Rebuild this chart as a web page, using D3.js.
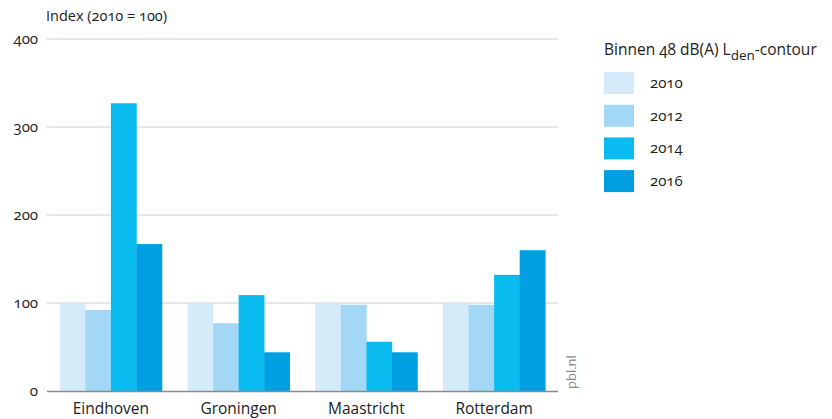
<!DOCTYPE html>
<html><head><meta charset="utf-8">
<script src="https://cdn.jsdelivr.net/npm/d3@7"></script>
<style>
body{margin:0;background:#fff;}
svg text{font-family:"Open Sans","Noto Sans",sans-serif;font-variant-numeric:oldstyle-nums;fill:#222;}
</style></head>
<body><svg id="c" width="832" height="419"></svg>
<script>
const categories = ["Eindhoven","Groningen","Maastricht","Rotterdam"];
const years = ["2010","2012","2014","2016"];
const v2010 = [100,100,100,100];
const v2012 = [92,77,98,98];
const v2014 = [327,109,56,132];
const v2016 = [167,44,44,160];
const seriesValues = [v2010,v2012,v2014,v2016];
const colors = ["#d5ebfa","#a2d8f6","#09bbee","#009fe2"];
const yTicks = [0,100,200,300,400];

const svg = d3.select("#c");
const x0 = 47, x1 = 558, yTop = 39, yBot = 391;
const x = d3.scaleBand().domain(categories).range([x0,x1]).paddingInner(0.2).paddingOuter(0.1);
const xs = d3.scaleBand().domain(years).range([0,x.bandwidth()]);
const y = d3.scaleLinear().domain([0,400]).range([yBot,yTop]);

// gridlines
svg.append("g").selectAll("line").data(yTicks.filter(d=>d>0)).join("line")
  .attr("x1",x0).attr("x2",x1).attr("y1",d=>y(d)).attr("y2",d=>y(d))
  .attr("stroke","#cfcfcf").attr("stroke-width",1);

// y tick labels
svg.append("g").selectAll("text").data(yTicks).join("text")
  .attr("x",38).attr("y",d=>y(d)+5).attr("text-anchor","end")
  .attr("font-size",15).text(d=>d);

// bars
const g = svg.append("g");
categories.forEach((c,i)=>{
  years.forEach((yr,j)=>{
    const v = seriesValues[j][i];
    g.append("rect").attr("x",x(c)+xs(yr)).attr("width",xs.bandwidth()+0.3)
      .attr("y",y(v)).attr("height",y(0)-y(v)).attr("fill",colors[j]);
  });
});

// baseline
svg.append("line").attr("x1",x0).attr("x2",x1).attr("y1",y(0)+0.5).attr("y2",y(0)+0.5)
  .attr("stroke","#8a8a8a").attr("stroke-width",1.3);

// x labels
svg.append("g").selectAll("text").data(categories).join("text")
  .attr("x",d=>x(d)+x.bandwidth()/2).attr("y",414).attr("text-anchor","middle")
  .attr("font-size",15.5).text(d=>d);

// y title
svg.append("text").attr("x",46).attr("y",21).attr("font-size",14.5).text("Index (2010 = 100)");

// pbl.nl
svg.append("text").attr("transform","translate(576,389) rotate(-90)")
  .attr("font-size",13).style("fill","#8a8a8a").text("pbl.nl");

// legend
const lt = svg.append("text").attr("x",604).attr("y",55).attr("font-size",15.5);
lt.append("tspan").text("Binnen 48 dB(A) L");
lt.append("tspan").attr("dy",5).attr("font-size",13.5).text("den");
lt.append("tspan").attr("dy",-5).text("-contour");

const lg = svg.append("g").selectAll("g").data(years).join("g")
  .attr("transform",(d,i)=>`translate(604,${72+i*32.7})`);
lg.append("rect").attr("width",30).attr("height",22).attr("fill",(d,i)=>colors[i]);
lg.append("text").attr("x",46).attr("y",16).attr("font-size",15).text(d=>d);
</script></body></html>
